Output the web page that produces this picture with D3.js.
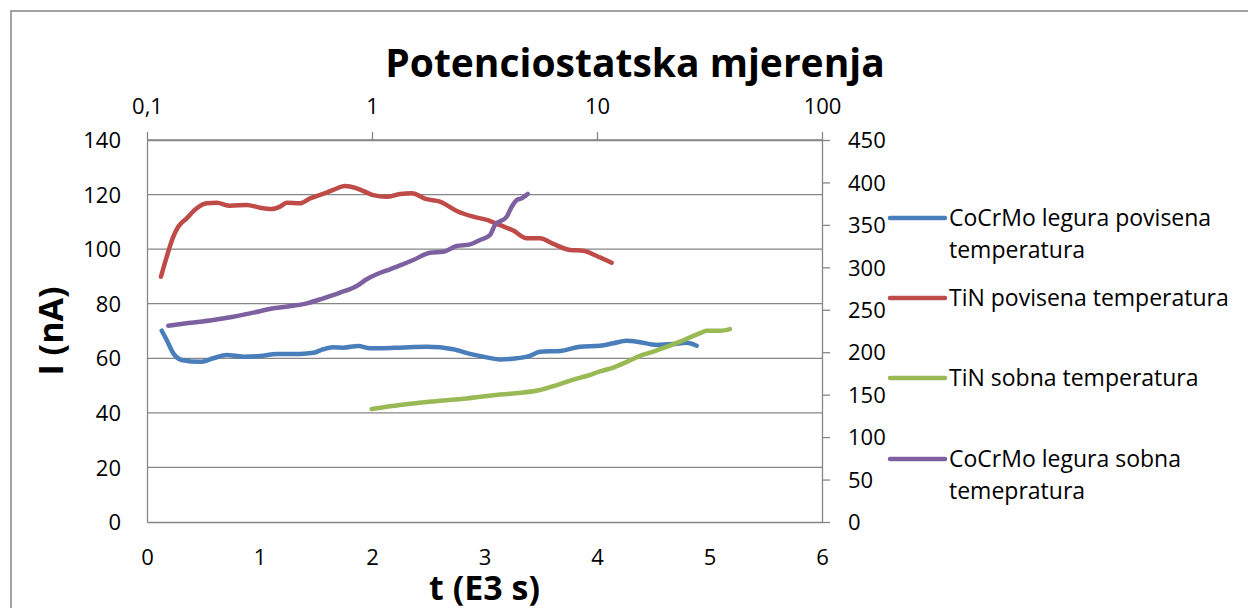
<!DOCTYPE html>
<html>
<head>
<meta charset="utf-8">
<script src="https://cdn.jsdelivr.net/npm/d3@7"></script>
<style>
  body { margin: 0; background: #fff; }
  svg { display: block; font-family: "Open Sans", sans-serif; }
  .axis path, .axis line { stroke: #868686; stroke-width: 1.3px; }
  .axis text { font-family: "Open Sans", sans-serif; font-size: 22px; fill: #000; }
  .grid line { stroke: #868686; stroke-width: 1.3px; }
  .series { fill: none; stroke-width: 4.5px; stroke-linecap: round; stroke-linejoin: round; }
</style>
</head>
<body>
<script>
// CoCrMo legura povisena temperatura (t in E3 s, I in nA) - primary axes
const blueT = [0.131, 0.175, 0.234, 0.308, 0.471, 0.589, 0.708, 0.856, 1.004, 1.153, 1.36, 1.478, 1.567, 1.656, 1.745, 1.878, 1.982, 2.1, 2.249, 2.486, 2.723, 2.871, 2.989, 3.138, 3.286, 3.404, 3.493, 3.671, 3.849, 4.027, 4.145, 4.264, 4.382, 4.53, 4.678, 4.797, 4.886];
const blueI = [70.1, 66.7, 61.8, 59.4, 58.7, 60.0, 61.2, 60.6, 60.8, 61.6, 61.6, 62.0, 63.3, 64.0, 63.9, 64.5, 63.7, 63.7, 63.9, 64.2, 63.3, 61.6, 60.6, 59.6, 60.0, 60.9, 62.4, 62.7, 64.2, 64.6, 65.5, 66.4, 65.9, 64.9, 65.2, 65.7, 64.6];

// TiN povisena temperatura - primary axes
const redT = [0.124, 0.175, 0.234, 0.278, 0.353, 0.442, 0.53, 0.62, 0.738, 0.886, 1.004, 1.108, 1.182, 1.242, 1.36, 1.449, 1.582, 1.656, 1.76, 1.864, 2.012, 2.13, 2.249, 2.353, 2.486, 2.604, 2.753, 2.9, 3.02, 3.138, 3.256, 3.375, 3.493, 3.612, 3.76, 3.878, 3.997, 4.13];
const redI = [89.9, 97.2, 104.6, 108.2, 111.3, 115.0, 116.8, 117.0, 115.9, 116.2, 115.2, 114.7, 115.6, 117.0, 116.8, 118.6, 120.5, 121.7, 123.1, 122.3, 119.8, 119.2, 120.2, 120.5, 118.3, 117.4, 114.0, 111.9, 110.7, 108.8, 106.8, 104.0, 104.0, 101.9, 99.7, 99.4, 97.5, 95.0];

// TiN sobna temperatura - primary axes
const greenT = [1.997, 2.249, 2.542, 2.842, 3.138, 3.493, 3.642, 3.79, 3.908, 4.027, 4.145, 4.264, 4.382, 4.5, 4.62, 4.738, 4.856, 4.916, 4.975, 5.093, 5.182];
const greenI = [41.4, 42.9, 44.2, 45.3, 46.7, 48.4, 50.2, 52.2, 53.5, 55.2, 56.6, 58.7, 60.9, 62.4, 64.2, 66.1, 68.2, 69.2, 70.1, 70.1, 70.7];

// CoCrMo legura sobna temepratura - secondary axes (log t, right I)
const purpleT = [0.1244, 0.150, 0.197, 0.242, 0.297, 0.364, 0.447, 0.513, 0.608, 0.721, 0.855, 0.947, 1.049, 1.202, 1.332, 1.526, 1.811, 2.075, 2.379, 2.727, 3.02, 3.346, 3.521, 3.968, 4.177, 4.397, 4.627, 4.92];
const purpleI = [231.2, 234.1, 238.0, 241.8, 246.6, 251.7, 254.8, 257.6, 263.5, 270.1, 278.0, 285.9, 291.8, 297.7, 302.2, 308.6, 317.2, 318.4, 325.1, 327.1, 332.2, 338.1, 349.9, 359.6, 371.4, 379.3, 381.3, 386.4];

const bottomTicks = [0, 1, 2, 3, 4, 5, 6];
const topTicks = [0.1, 1, 10, 100];
const leftTicks = [0, 20, 40, 60, 80, 100, 120, 140];
const rightTicks = [0, 50, 100, 150, 200, 250, 300, 350, 400, 450];

const legendLines = [["CoCrMo legura povisena", "temperatura"], ["TiN povisena temperatura"], ["TiN sobna temperatura"], ["CoCrMo legura sobna", "temepratura"]];
const colors = ["#4a7ebb", "#be4b48", "#98b954", "#7d60a0"];

const W = 1248, H = 608;
const L = 147, R = 822, T = 140, B = 522;

const svg = d3.select("body").append("svg").attr("width", W).attr("height", H);

svg.append("rect").attr("x", 11).attr("y", 11).attr("width", 1260).attr("height", 620)
  .attr("fill", "#fff").attr("stroke", "#868686").attr("stroke-width", 1.5);

const x = d3.scaleLinear().domain([0, 6]).range([L, R]);
const x2 = d3.scaleLog().domain([0.1, 100]).range([L, R]);
const y = d3.scaleLinear().domain([0, 140]).range([B, T]);
const y2 = d3.scaleLinear().domain([0, 450]).range([B, T]);

// gridlines
svg.append("g").attr("class", "grid")
  .selectAll("line").data(leftTicks.slice(1)).enter().append("line")
  .attr("x1", L).attr("x2", R).attr("y1", d => y(d)).attr("y2", d => y(d));

// axes
const gB = svg.append("g").attr("class", "axis").attr("transform", `translate(0,${B})`)
  .call(d3.axisBottom(x).tickValues(bottomTicks).tickSize(0).tickFormat(d3.format("d")));
gB.selectAll("text").attr("y", 35).attr("dy", "0.35em");

const gL = svg.append("g").attr("class", "axis").attr("transform", `translate(${L},0)`)
  .call(d3.axisLeft(y).tickValues(leftTicks).tickSize(0));
gL.selectAll("text").attr("x", -26).attr("dy", "0.35em");

const gT = svg.append("g").attr("class", "axis").attr("transform", `translate(0,${T})`)
  .call(d3.axisTop(x2).tickValues(topTicks).tickSizeInner(8).tickSizeOuter(0)
    .tickFormat(d => String(d).replace(".", ",")));
gT.selectAll("text").attr("y", -34).attr("dy", "0.35em");

const gR = svg.append("g").attr("class", "axis").attr("transform", `translate(${R},0)`)
  .call(d3.axisRight(y2).tickValues(rightTicks).tickSizeInner(8).tickSizeOuter(0));
gR.selectAll("text").attr("x", 26).attr("dy", "0.35em").attr("text-anchor", "start");

// series
const primLine = d3.line().x(d => x(d[0])).y(d => y(d[1])).curve(d3.curveMonotoneX);
const secLine = d3.line().x(d => x2(d[0])).y(d => y2(d[1])).curve(d3.curveMonotoneX);

const data = [
  { pts: d3.zip(blueT, blueI), line: primLine },
  { pts: d3.zip(redT, redI), line: primLine },
  { pts: d3.zip(greenT, greenI), line: primLine },
  { pts: d3.zip(purpleT, purpleI), line: secLine }
];
data.forEach((s, i) => {
  svg.append("path").attr("class", "series").attr("stroke", colors[i]).attr("d", s.line(s.pts));
});

// titles
svg.append("text").attr("x", 635).attr("y", 77).attr("text-anchor", "middle")
  .style("font-size", "39px").style("font-weight", "bold").text("Potenciostatska mjerenja");
svg.append("text").attr("transform", `translate(63,${(T + B) / 2}) rotate(-90)`).attr("text-anchor", "middle")
  .style("font-size", "34px").style("font-weight", "bold").text("I (nA)");
svg.append("text").attr("x", (L + R) / 2).attr("y", 600).attr("text-anchor", "middle")
  .style("font-size", "34px").style("font-weight", "bold").text("t (E3 s)");

// legend
const legY = [218, 298, 378, 459];
const leg = svg.append("g");
legendLines.forEach((lines, i) => {
  leg.append("line").attr("x1", 890).attr("x2", 945).attr("y1", legY[i]).attr("y2", legY[i])
    .attr("stroke", colors[i]).attr("stroke-width", 4.5).attr("stroke-linecap", "round");
  lines.forEach((t, j) => {
    leg.append("text").attr("x", 949).attr("y", legY[i] + j * 32).attr("dy", "0.35em")
      .style("font-size", "23px").text(t);
  });
});
</script>
</body>
</html>
